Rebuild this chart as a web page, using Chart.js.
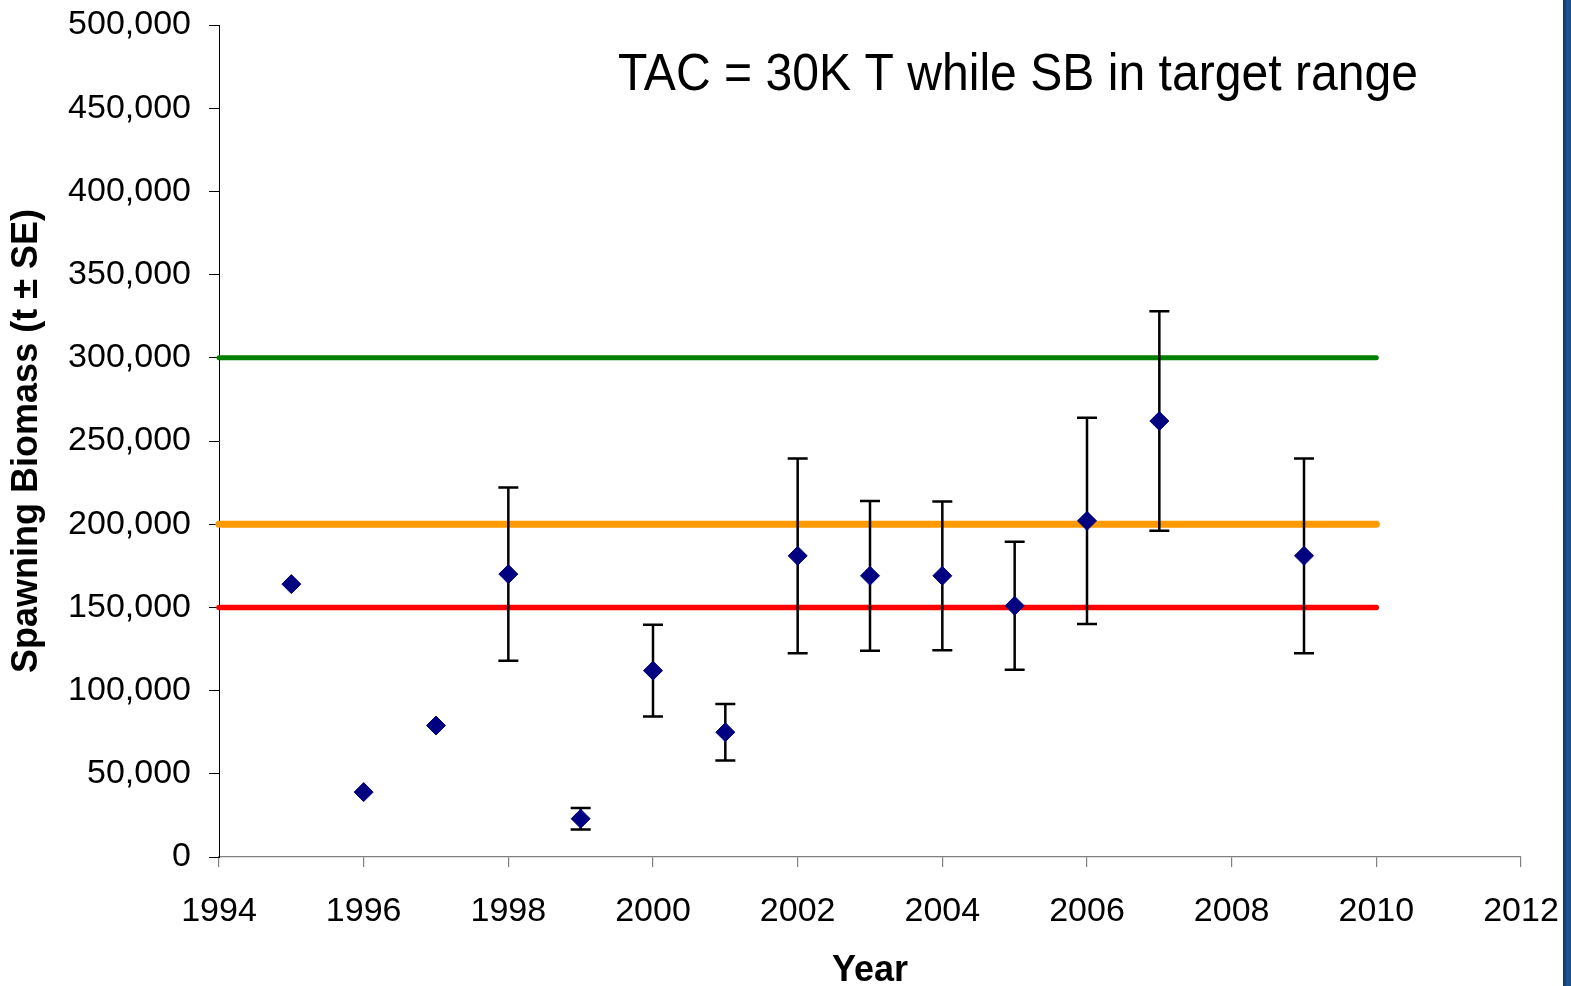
<!DOCTYPE html>
<html>
<head>
<meta charset="utf-8">
<script src="https://cdn.jsdelivr.net/npm/chart.js@4/dist/chart.umd.min.js"></script>
<style>
  html, body { margin: 0; padding: 0; background: #ffffff; }
  #wrap { position: relative; width: 1571px; height: 986px; overflow: hidden; }
  #edge { position: absolute; top: 0; right: 0; width: 8px; height: 986px;
          background: linear-gradient(to right, #0d3463, #1d5a98 60%, #174b82); }
  canvas { display: block; }
</style>
</head>
<body>
<div id="wrap">
  <canvas id="c" width="1571" height="986"></canvas>
  <div id="edge"></div>
</div>
<script>
// Survey years, spawning biomass estimates (t) and standard errors (t)
const years   = [1995, 1996, 1997, 1998, 1999, 2000, 2001, 2002, 2003, 2004, 2005, 2006, 2007, 2009];
const biomass = [164000, 39000, 79000, 170000, 23000, 112000, 75000, 181000, 169000, 169000, 151000, 202000, 262000, 181000];
const stdErr  = [null, null, null, 52000, 6500, 27500, 17000, 58500, 45000, 44700, 38400, 62000, 66000, 58500];

// Reference biomass levels and the span of years they cover
const upperLevel  = 300000;
const targetLevel = 200000;
const lowerLevel  = 150000;
const levelSpan   = [1994, 2010];

// Axis ranges and ticks
const xMin = 1994, xMax = 2012, xStep = 2;
const yMin = 0, yMax = 500000, yStep = 50000;

const annotationText = 'TAC = 30K T while SB in target range';

const FONT = "'Liberation Sans', Arial, sans-serif";

const levelLine = (level, color, width) => ({
  type: 'line',
  data: levelSpan.map(x => ({ x: x, y: level })),
  borderColor: color,
  borderWidth: width,
  borderCapStyle: 'round',
  pointRadius: 0,
  fill: false,
  clip: false
});

// Error bars are drawn just before the biomass markers so the diamonds sit on top
const errorBars = {
  id: 'errorBars',
  beforeDatasetDraw(chart, args) {
    if (args.index !== 0) return;
    const { ctx, scales: { x, y } } = chart;
    ctx.save();
    ctx.strokeStyle = '#000000';
    ctx.lineWidth = 2.5;
    const capHalf = 10;
    years.forEach((yr, i) => {
      const e = stdErr[i];
      if (e == null) return;
      const px = x.getPixelForValue(yr);
      const top = y.getPixelForValue(biomass[i] + e);
      const bot = y.getPixelForValue(biomass[i] - e);
      ctx.beginPath();
      ctx.moveTo(px, top); ctx.lineTo(px, bot);
      ctx.moveTo(px - capHalf, top); ctx.lineTo(px + capHalf, top);
      ctx.moveTo(px - capHalf, bot); ctx.lineTo(px + capHalf, bot);
      ctx.stroke();
    });
    ctx.restore();
  }
};

// Caption inside the plot area, slightly condensed
const caption = {
  id: 'caption',
  afterDraw(chart) {
    const { ctx, chartArea } = chart;
    ctx.save();
    ctx.font = '52px ' + FONT;
    ctx.fillStyle = '#000000';
    ctx.textBaseline = 'alphabetic';
    const w = ctx.measureText(annotationText).width;
    const targetW = 800;
    const left = chartArea.left + 399;
    ctx.translate(left, 90);
    ctx.scale(targetW / w, 1);
    ctx.fillText(annotationText, 0, 0);
    ctx.restore();
  }
};

new Chart(document.getElementById('c'), {
  type: 'scatter',
  data: {
    datasets: [
      {
        data: years.map((yr, i) => ({ x: yr, y: biomass[i] })),
        pointStyle: 'rectRot',
        pointRadius: 9.5,
        pointHoverRadius: 9.5,
        backgroundColor: '#000080',
        borderColor: '#000080',
        borderWidth: 1,
        clip: false
      },
      levelLine(lowerLevel, '#ff0000', 5.5),
      levelLine(targetLevel, '#ff9900', 7),
      levelLine(upperLevel, '#008000', 5)
    ]
  },
  options: {
    responsive: false,
    animation: false,
    events: [],
    layout: { padding: { top: 25, right: 50, left: 0, bottom: 0 } },
    plugins: {
      legend: { display: false },
      tooltip: { enabled: false },
      title: { display: false }
    },
    scales: {
      x: {
        type: 'linear',
        min: xMin, max: xMax,
        ticks: {
          stepSize: xStep,
          color: '#000000',
          font: { family: FONT, size: 34 },
          padding: 24,
          maxRotation: 0,
          callback: v => String(v)
        },
        grid: { drawOnChartArea: false, drawTicks: true, tickLength: 10, color: '#808080', lineWidth: 1.2 },
        border: { display: true, color: '#808080', width: 1.2 },
        title: {
          display: true, text: 'Year', color: '#000000',
          font: { family: FONT, size: 36, weight: 'bold', lineHeight: 0.85 },
          padding: { top: 0, bottom: 0 }
        },
        afterFit(scale) {
          scale.height = 129;
          scale.paddingLeft = 0;
          scale.paddingRight = 0;
        }
      },
      y: {
        type: 'linear',
        min: yMin, max: yMax,
        ticks: {
          stepSize: yStep,
          color: '#000000',
          font: { family: FONT, size: 34 },
          padding: 18,
          callback: v => v.toLocaleString('en-US')
        },
        grid: { drawOnChartArea: false, drawTicks: true, tickLength: 10, color: '#000000', lineWidth: 1 },
        border: { display: true, color: '#000000', width: 1 },
        title: {
          display: true, text: 'Spawning Biomass (t ± SE)', color: '#000000',
          font: { family: FONT, size: 36, weight: 'bold' },
          padding: { top: 5, bottom: 0 }
        },
        afterFit(scale) {
          scale.width = 219;
          scale.paddingTop = 0;
          scale.paddingBottom = 0;
        }
      }
    }
  },
  plugins: [errorBars, caption]
});
</script>
</body>
</html>
